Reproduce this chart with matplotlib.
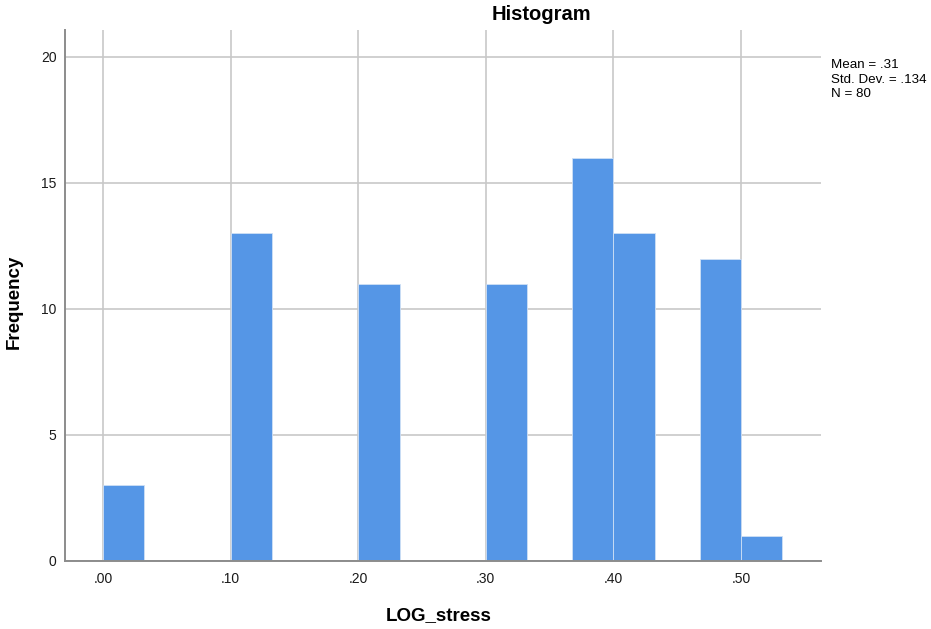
import matplotlib
matplotlib.use("Agg")
import matplotlib.pyplot as plt

plt.rcParams['font.family'] = ['Liberation Sans', 'DejaVu Sans']

# ==================== DATEN ====================
bin_left = [0.0, 0.1, 0.2, 0.3, 0.3675, 0.4, 0.4675, 0.5]
bin_width = 0.0325
counts = [3, 13, 11, 11, 16, 13, 12, 1]

x_ticks = [0.0, 0.1, 0.2, 0.3, 0.4, 0.5]
x_tick_labels = [".00", ".10", ".20", ".30", ".40", ".50"]
y_ticks = [0, 5, 10, 15, 20]

stats_text = "Mean = .31\nStd. Dev. = .134\nN = 80"
# ===============================================

BAR_COLOR = "#5596e6"
GRID_COLOR = "#c8c8c8"
SPINE_COLOR = "#8c8c8c"

fig = plt.figure(figsize=(9.31, 6.29), dpi=100)
ax = fig.add_axes([65 / 931, 68 / 629, 756 / 931, 531 / 629])

ax.bar(bin_left, counts, width=bin_width, align="edge",
       color=BAR_COLOR, edgecolor="#cfe0f5", linewidth=0.6, zorder=3)

ax.set_xlim(-0.0298, 0.5627)
ax.set_ylim(0, 21.07)
ax.set_xticks(x_ticks)
ax.set_xticklabels(x_tick_labels)
ax.set_yticks(y_ticks)

ax.grid(True, color=GRID_COLOR, linewidth=1.2, zorder=0)
ax.set_axisbelow(True)

for side in ["top", "right"]:
    ax.spines[side].set_visible(False)
for side in ["left", "bottom"]:
    ax.spines[side].set_color(SPINE_COLOR)
    ax.spines[side].set_linewidth(1.4)
    ax.spines[side].set_zorder(4)

ax.tick_params(axis="both", length=0, labelsize=10, colors="#1a1a1a")
ax.tick_params(axis="x", pad=8)
ax.tick_params(axis="y", pad=6)

# Beschriftungen
fig.text(541 / 931, 1 - 14 / 629, "Histogram", ha="center", va="center",
         fontsize=14.5, fontweight="bold")
fig.text(439 / 931, 1 - 616 / 629, "LOG_stress", ha="center", va="center",
         fontsize=13.5, fontweight="bold")
fig.text(14 / 931, 1 - 302 / 629, "Frequency", ha="center", va="center",
         rotation=90, fontsize=13.5, fontweight="bold")
fig.text(831 / 931, 1 - 59 / 629, stats_text, ha="left", va="top",
         fontsize=9.6, linespacing=1.28)

plt.savefig("out.png", dpi=100)
plt.close()
